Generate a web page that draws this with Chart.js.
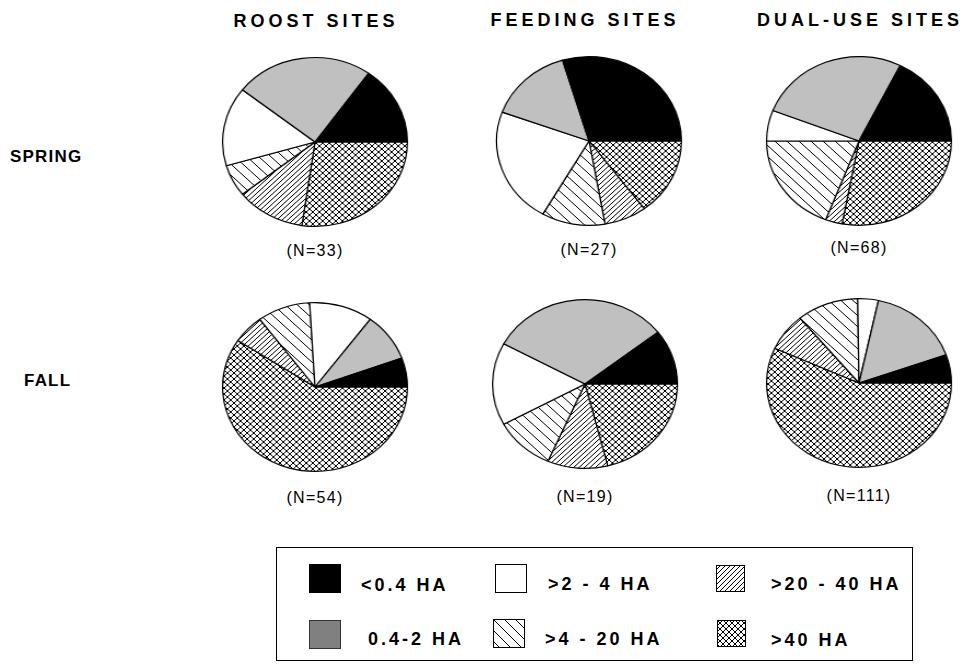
<!DOCTYPE html>
<html>
<head>
<meta charset="utf-8">
<title>Site size classes</title>
<script src="https://cdn.jsdelivr.net/npm/chart.js@4.4.0/dist/chart.umd.min.js"></script>
<style>
  body { margin: 0; background: #fff; }
  #page { position: relative; width: 969px; height: 664px; overflow: hidden;
          font-family: "Liberation Sans", Arial, sans-serif; color: #000; }
  .txt { position: absolute; white-space: nowrap; transform: translate(-50%, -50%); }
  .left { position: absolute; white-space: nowrap; transform: translateY(-50%); }
  .title { font-weight: bold; font-size: 18px; letter-spacing: 4px; }
  .season { font-weight: bold; font-size: 17px; letter-spacing: 1.2px; }
  .nlabel { font-size: 16px; letter-spacing: 1.3px; }
  .leg { font-weight: bold; font-size: 18px; letter-spacing: 3px; }
  .pie { position: absolute; transform: scaleX(1.095); transform-origin: 50% 50%; }
  #legendBox { position: absolute; left: 276px; top: 547px; width: 637px; height: 114px;
               border: 1px solid #000; box-sizing: border-box; }
  .swatch { position: absolute; }
</style>
</head>
<body>
<div id="page">
  <div class="txt title" style="left:316px; top:21px;">ROOST SITES</div>
  <div class="txt title" style="left:585px; top:20px;">FEEDING SITES</div>
  <div class="txt title" style="left:860px; top:20px;">DUAL-USE SITES</div>
  <div class="left season" style="left:10px; top:157px;">SPRING</div>
  <div class="left season" style="left:24px; top:381px;">FALL</div>
  <div id="legendBox"></div>
</div>

<script>
// size classes, listed counterclockwise from 3 o'clock as in the figure
const categories = ['<0.4 HA', '0.4-2 HA', '>2 - 4 HA', '>4 - 20 HA', '>20 - 40 HA', '>40 HA'];

// number of sites in each size class
const roostSpring   = [5, 8, 5, 2, 4, 9];
const feedingSpring = [8, 4, 6, 3, 2, 4];
const dualSpring    = [12, 18, 4, 13, 2, 19];
const roostFall     = [3, 5, 6, 5, 3, 32];
const feedingFall   = [2, 6, 3, 2, 2, 4];
const dualFall      = [6, 18, 4, 12, 8, 63];

function makePattern(kind) {
    const s = kind === 'back' ? 11 : (kind === 'fwd' ? 5 : 6);
    const c = document.createElement('canvas');
    c.width = s; c.height = s;
    const g = c.getContext('2d');
    g.fillStyle = '#fff';
    g.fillRect(0, 0, s, s);
    g.strokeStyle = '#000';
    g.lineWidth = 1;
    g.beginPath();
    if (kind === 'fwd' || kind === 'cross') {
        g.moveTo(0, s); g.lineTo(s, 0);
        g.moveTo(-1, 1); g.lineTo(1, -1);
        g.moveTo(s - 1, s + 1); g.lineTo(s + 1, s - 1);
    }
    if (kind === 'back' || kind === 'cross') {
        g.moveTo(0, 0); g.lineTo(s, s);
        g.moveTo(-1, s - 1); g.lineTo(1, s + 1);
        g.moveTo(s - 1, -1); g.lineTo(s + 1, 1);
    }
    g.stroke();
    return g.createPattern(c, 'repeat');
}

const pieFills = ['#000000', '#c0c0c0', '#ffffff', makePattern('back'), makePattern('fwd'), makePattern('cross')];
const legendFills = ['#000000', '#808080', '#ffffff', pieFills[3], pieFills[4], pieFills[5]];

const page = document.getElementById('page');

function addText(cls, text, x, y) {
    const d = document.createElement('div');
    d.className = 'txt ' + cls;
    d.textContent = text;
    d.style.left = x + 'px';
    d.style.top = y + 'px';
    page.appendChild(d);
}

const pies = [
    { values: roostSpring,   cx: 315, cy: 142, ny: 251 },
    { values: feedingSpring, cx: 589, cy: 141, ny: 250 },
    { values: dualSpring,    cx: 859, cy: 141, ny: 248 },
    { values: roostFall,     cx: 315, cy: 387, ny: 498 },
    { values: feedingFall,   cx: 585, cy: 384, ny: 497 },
    { values: dualFall,      cx: 859, cy: 383, ny: 496 }
];

const SIZE = 172;
pies.forEach(p => {
    const cv = document.createElement('canvas');
    cv.className = 'pie';
    cv.width = SIZE; cv.height = SIZE;
    cv.style.left = (p.cx - SIZE / 2) + 'px';
    cv.style.top = (p.cy - SIZE / 2) + 'px';
    page.appendChild(cv);

    // Chart.js goes clockwise, the figure goes counterclockwise from east,
    // so feed the classes in reverse and start at 90 degrees
    new Chart(cv, {
        type: 'pie',
        data: {
            labels: categories.slice().reverse(),
            datasets: [{
                data: p.values.slice().reverse(),
                backgroundColor: pieFills.slice().reverse(),
                borderColor: '#000',
                borderWidth: 1.2
            }]
        },
        options: {
            responsive: false,
            animation: false,
            rotation: 90,
            layout: { padding: 1 },
            plugins: { legend: { display: false }, tooltip: { enabled: false } }
        }
    });

    const n = p.values.reduce((a, b) => a + b, 0);
    addText('nlabel', '(N=' + n + ')', p.cx, p.ny);
});

// legend: two rows, three columns
const legendPos = [
    { sx: 309, sy: 564, tx: 361, ty: 585 },
    { sx: 309, sy: 620, tx: 368, ty: 639 },
    { sx: 495, sy: 564, tx: 548, ty: 584 },
    { sx: 493, sy: 619, tx: 545, ty: 639 },
    { sx: 716, sy: 565, tx: 771, ty: 584 },
    { sx: 717, sy: 620, tx: 771, ty: 640 }
];

categories.forEach((cat, i) => {
    const pos = legendPos[i];
    const w = i >= 4 ? 29 : 32, h = i >= 4 ? 27 : 29;
    const sw = document.createElement('canvas');
    sw.className = 'swatch';
    sw.width = w; sw.height = h;
    sw.style.left = pos.sx + 'px';
    sw.style.top = pos.sy + 'px';
    page.appendChild(sw);
    const g = sw.getContext('2d');
    g.fillStyle = legendFills[i];
    g.fillRect(0, 0, w, h);
    g.strokeStyle = i === 1 ? '#333' : '#000';
    g.lineWidth = 1;
    g.strokeRect(0.5, 0.5, w - 1, h - 1);

    const t = document.createElement('div');
    t.className = 'left leg';
    t.textContent = cat;
    t.style.left = pos.tx + 'px';
    t.style.top = pos.ty + 'px';
    page.appendChild(t);
});
</script>
</body>
</html>
